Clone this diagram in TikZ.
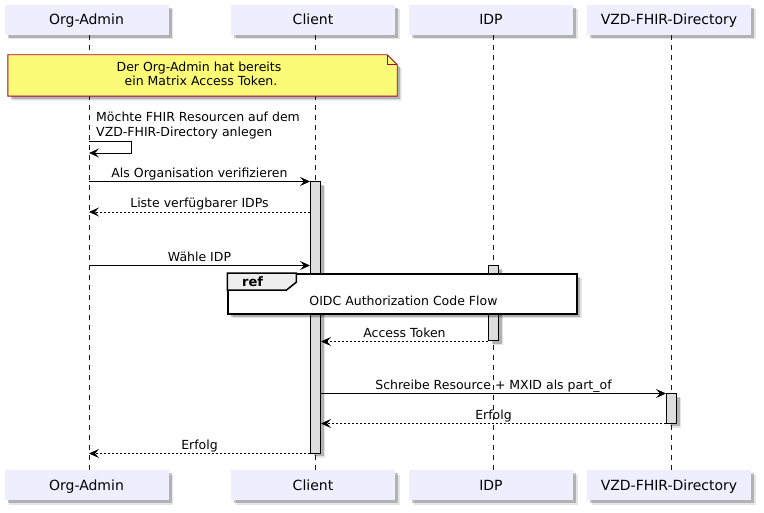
\documentclass[tikz,border=0pt]{standalone}
\usepackage{fontspec}
\setmainfont{DejaVu Sans}
\usetikzlibrary{arrows.meta,calc}
\definecolor{partfill}{HTML}{EEEEFF}
\definecolor{notefill}{HTML}{FBFB77}
\definecolor{noteline}{HTML}{A80036}
\definecolor{actfill}{HTML}{DDDDDD}
\definecolor{tabfill}{HTML}{EEEEEE}
\definecolor{lifec}{HTML}{181818}
\tikzset{
  shadowed/.style={
    preaction={fill=black,opacity=0.10,transform canvas={shift={(4.5pt,-4.5pt)}}},
    preaction={fill=black,opacity=0.22,transform canvas={shift={(3pt,-3pt)}}}},
  part/.style={shadowed,fill=partfill,draw=none,minimum width=164pt,minimum height=30pt,
    inner sep=0pt,text height=10pt,text depth=0pt,font=\fontsize{14}{16}\selectfont},
  lifeline/.style={draw=lifec,line width=0.8pt,dash pattern=on 5pt off 5pt},
  actbar/.style={shadowed,fill=actfill,draw=black,line width=1pt,minimum width=10pt,inner sep=0pt},
  msg/.style={draw=black,line width=0.9pt,-{Stealth[length=10pt,width=9pt,inset=4pt]}},
  ret/.style={msg,dash pattern=on 2pt off 2pt},
  lbl/.style={font=\fontsize{12.5}{14.5}\selectfont,inner sep=0pt,anchor=base},
}
\begin{document}
\begin{tikzpicture}[x=1pt,y=-1pt]
\useasboundingbox (0,0) rectangle (764,513);
\fill[white] (0,0) rectangle (764,513);
% participants
\node[part] (oaT) at (86.5,20) {Org-Admin};
\node[part] (cT) at (313,20) {Client};
\node[part] (iT) at (491,20) {IDP};
\node[part] (vT) at (669,20) {VZD-FHIR-Directory};
\node[part] (oaB) at (86.5,485) {Org-Admin};
\node[part] (cB) at (313,485) {Client};
\node[part] (iB) at (491,485) {IDP};
\node[part] (vB) at (669,485) {VZD-FHIR-Directory};
\coordinate (oaL) at ([xshift=2.5pt]oaT.south);
\coordinate (cL) at ([xshift=2.5pt]cT.south);
\coordinate (iL) at ([xshift=2.5pt]iT.south);
\coordinate (vL) at ([xshift=2.5pt]vT.south);
% lifelines
\draw[lifeline] (oaL) -- ([xshift=2.5pt]oaB.north);
\draw[lifeline] (cL) -- ([xshift=2.5pt]cB.north);
\draw[lifeline] (iL) -- ([xshift=2.5pt]iB.north);
\draw[lifeline] (vL) -- ([xshift=2.5pt]vB.north);
% note
\node[minimum width=389pt,minimum height=41pt,inner sep=0pt] (note) at (202.5,75.5) {};
\path[shadowed,fill=notefill,draw=noteline,line width=0.9pt]
  (note.south west) -- (note.north west) -- ([xshift=-10pt]note.north east)
  -- ([yshift=-10pt]note.north east) -- (note.south east) -- cycle;
\draw[noteline,line width=0.9pt] ([xshift=-10pt]note.north east) -- ++(0,10) -- ++(10,0);
\node[font=\fontsize{12.5}{14.5}\selectfont,align=center,inner sep=0pt,anchor=base] (notetxt) at (199,86)
  {Der Org-Admin hat bereits\\\ ein Matrix Access Token.};
% self message
\coordinate (s1) at (oaL |- 0,141);
\coordinate (s2) at (oaL |- 0,153);
\draw[msg,-] (s1) -- ++(42,0) coordinate (s1r);
\draw[msg] (s1r) |- (s2);
\node[lbl,anchor=base west,align=left] (selftxt) at (96,136.5)
  {Möchte FHIR Resourcen auf dem\\VZD-FHIR-Directory anlegen};
% activations
\node[actbar,minimum height=271pt] (actC) at (315.5,317.5) {};
\node[actbar,minimum height=75pt] (actI) at (493.5,303.5) {};
\node[actbar,minimum height=29pt] (actV) at (671.5,408.5) {};
% messages
\draw[msg] (oaL |- actC.north west) -- node[lbl,midway,yshift=4pt] {Als Organisation verifizieren} (actC.north west);
\coordinate (m2) at (actC.west |- 0,212);
\draw[ret] (m2) -- node[lbl,midway,yshift=4pt] {Liste verfügbarer IDPs} (oaL |- m2);
\coordinate (m3) at (actC.west |- actI.north);
\draw[msg] (oaL |- m3) -- node[lbl,midway,yshift=4pt] {Wähle IDP} (m3);
% ref box
\node[shadowed,draw=black,fill=white,line width=1.5pt,minimum width=349pt,minimum height=40pt,inner sep=0pt] (ref) at (402.5,294) {};
\path[draw=black,fill=tabfill,line width=1.5pt] (ref.north west) -- ++(69,0) -- ++(0,9) -- ++(-10,8) -- ++(-59,0) -- cycle;
\node[font=\fontsize{13}{15}\selectfont\bfseries,inner sep=0pt,anchor=base west] (reflbl) at (242,287) {ref};
\node[lbl] (reftxt) at (403.5,306) {OIDC Authorization Code Flow};
% remaining messages
\draw[ret] (actI.south west) -- node[lbl,midway,yshift=4pt] {Access Token} (actC.east |- actI.south west);
\draw[msg] (actC.east |- actV.north west) -- node[lbl,midway,yshift=4pt] {Schreibe Resource + MXID als part\_of} (actV.north west);
\draw[ret] (actV.south west) -- node[lbl,midway,yshift=4pt] {Erfolg} (actC.east |- actV.south west);
\draw[ret] (actC.south west) -- node[lbl,midway,yshift=4pt] {Erfolg} (oaL |- actC.south west);
\end{tikzpicture}
\end{document}
